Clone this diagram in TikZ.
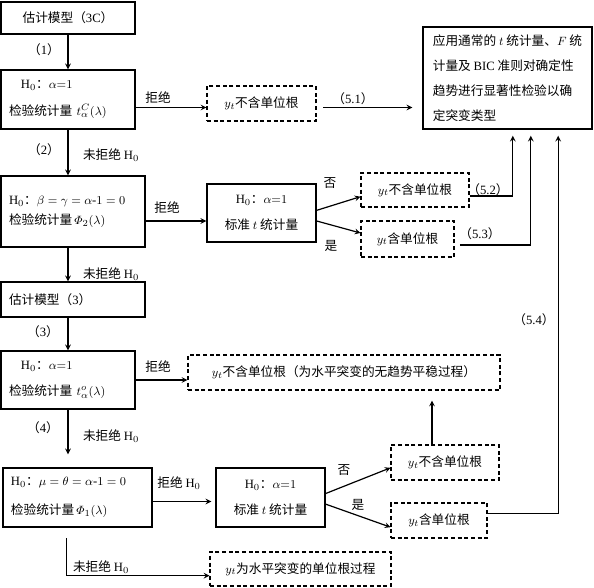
\documentclass[tikz,border=0pt]{standalone}
\usepackage[no-math]{fontspec}
\usepackage{amsmath}
\usepackage{tikz}
\setmainfont{Noto Sans CJK SC}
\newfontfamily\lat{Liberation Serif}
\newcommand{\Hnull}{{\lat H}$_0$}
\newcommand{\lnum}[1]{（{\lat #1}）}
\newcommand{\hyph}{\mbox{\lat -}}
\tikzset{
    block/.style={
        draw, line width = 1.1pt,
        align = center,
        inner sep = 2pt
    },
    testbox/.style={
        block, align = left,
        inner xsep = 6pt
    },
    result/.style={
        draw, line width = 0.8pt,
        dash pattern = on 3pt off 2pt,
        align = center,
        inner sep = 2pt
    },
    every node/.style = {font = \fontsize{9.5}{11}\selectfont},
    line/.style = {-stealth, line width = 0.9pt}
}

\begin{document}
\begin{tikzpicture}[x=0.75pt, y=-0.75pt]
    \useasboundingbox (0,0) rectangle (594,588);

    % Left column
    \node[block, minimum width=100.5pt, minimum height=24pt] (model3c) at (68,18) {估计模型\lnum{3C}};
    \node[testbox, text width=88.5pt, minimum height=44.25pt] (testa) at (68,99.5)
        {\hspace*{9pt}\Hnull：$\alpha{=}1$\\[9pt]检验统计量\,\,$t_{\alpha}^{C}(\lambda)$};
    \node[testbox, text width=96pt, minimum height=53.25pt] (phi2) at (73,211.5)
        {\Hnull：$\beta=\gamma=\alpha\hyph1=0$\\[4pt]检验统计量\,$\varPhi_2(\lambda)$};
    \node[testbox, text width=96pt, minimum height=26.25pt] (model3) at (73,299.5) {估计模型\lnum{3}};
    \node[testbox, text width=88.5pt, minimum height=43.5pt] (testo) at (68,380)
        {\hspace*{9pt}\Hnull：$\alpha{=}1$\\[9pt]检验统计量\,\,$t_{\alpha}^{o}(\lambda)$};
    \node[testbox, text width=99.75pt, minimum height=44.25pt] (phi1) at (77.5,497.5)
        {\Hnull：$\mu=\theta=\alpha\hyph1=0$\\[11pt]检验统计量\,$\varPhi_1(\lambda)$};

    % Standard t tests
    \node[block, minimum width=81.75pt, minimum height=43.5pt] (tstat1) at (261.5,213)
        {\Hnull：$\alpha{=}1$\\[8.5pt]标准 $t$ 统计量};
    \node[block, minimum width=81.75pt, minimum height=44.25pt] (tstat2) at (270.5,497.5)
        {\Hnull：$\alpha{=}1$\\[8.5pt]标准 $t$ 统计量};

    % Decision rule
    \node[block, minimum width=126.75pt, minimum height=76.5pt, align=left, inner xsep=3pt,
        font=\fontsize{9.5}{18.75}\selectfont] (rule) at (507.5,78)
        {应用通常的 $t$ 统计量、$F$ 统\\计量及 {\lat BIC} 准则对确定性\\趋势进行显著性检验以确\\定突变类型};

    % Results
    \node[result, minimum width=81.75pt, minimum height=26.25pt] (nr1) at (261.5,103.5) {$y_t$不含单位根};
    \node[result, minimum width=81pt, minimum height=25.5pt] (nr2) at (415,190) {$y_t$不含单位根};
    \node[result, minimum width=69.75pt, minimum height=27pt] (nr3) at (407.5,239) {$y_t$含单位根};
    \node[result, minimum width=234pt, minimum height=26.25pt] (nr4) at (344,372.5)
        {$y_t$不含单位根（为水平突变的无趋势平稳过程）};
    \node[result, minimum width=81pt, minimum height=26.25pt] (nr5) at (445,462.5) {$y_t$不含单位根};
    \node[result, minimum width=72pt, minimum height=26.25pt] (nr6) at (439,520.5) {$y_t$含单位根};
    \node[result, minimum width=135.75pt, minimum height=25.5pt] (nr7) at (300.5,569) {$y_t$为水平突变的单位根过程};

    % Helper points
    \coordinate (r1) at ([yshift=-3pt]nr1.west);
    \coordinate (r2) at ([yshift=-6pt]tstat1.west);
    \coordinate (r3) at ([xshift=-3pt,yshift=-3pt]tstat2.west);
    \coordinate (r4) at ([yshift=-5pt]nr7.west);
    \coordinate (d1) at ([xshift=-8pt,yshift=-8pt]phi1.south);
    \coordinate (u1) at ([xshift=-9.75pt]nr5.north);
    \coordinate (in52) at ([xshift=4pt]rule.south);
    \coordinate (in53) at ([xshift=17.5pt]rule.south);
    \coordinate (in54) at ([xshift=38pt]rule.south);

    % Lines
    \draw[line] (model3c) -- (testa);
    \draw[line] (testa.south) -- (testa.south |- phi2.north);
    \draw[line] (testa.south |- phi2.south) -- (testa.south |- model3.north);
    \draw[line] (testo.north |- model3.south) -- (testo.north);
    \draw[line, shorten >=9.75pt] (testo.south) -- (testo.south |- phi1.north);
    \draw[line] (d1) |- (r4);

    \draw[line] (testa.east |- r1) -- (r1);
    \draw[line, shorten <=5pt, shorten >=7.5pt] (nr1.east |- r1) -- (rule.west |- r1);
    \draw[line] (phi2.east |- r2) -- (r2);
    \draw[line] ([yshift=2pt]tstat1.east) -- ([yshift=-5pt]nr2.west);
    \draw[line] ([yshift=-6pt]tstat1.east) -- ([yshift=4.5pt]nr3.west);
    \draw[line] (testo.east) -- (testo.east -| nr4.west);
    \draw[line] (phi1.east |- r3) -- (r3);
    \draw[line] ([yshift=3pt]tstat2.east) -- ([yshift=-4pt]nr5.west);
    \draw[line] ([yshift=-5pt]tstat2.east) -- ([yshift=-5pt]nr6.west);
    \draw[line, shorten >=7.5pt] (u1) -- (u1 |- nr4.south);

    \draw[line, shorten >=4.5pt] ([yshift=-4.5pt]nr2.east) -| (in52);
    \draw[line, shorten >=4.5pt] ([xshift=4pt,yshift=-4.5pt]nr3.east) -| (in53);
    \draw[line, shorten >=4.5pt] ([yshift=5pt]nr6.east) -| (in54);

    % Labels
    \node (lab1) at (44,50) {\lnum{1}};
    \node (lab2) at (44,150) {\lnum{2}};
    \node (lab3) at (43,332) {\lnum{3}};
    \node (lab4) at (43,428) {\lnum{4}};
    \node (nrej1) at (111,155) {未拒绝 \Hnull};
    \node (nrej2) at (111,274) {未拒绝 \Hnull};
    \node (nrej3) at (111,436) {未拒绝 \Hnull};
    \node (nrej4) at (101,567) {未拒绝 \Hnull};
    \node (rej1) at (158,98) {拒绝};
    \node (rej2) at (167,208) {拒绝};
    \node (rej3) at (158,367) {拒绝};
    \node (rej4) at (179,483) {拒绝 \Hnull};
    \node (l51) at (353,99) {\lnum{5.1}};
    \node (l52) at (488,190) {\lnum{5.2}};
    \node (l53) at (480,234) {\lnum{5.3}};
    \node (l54) at (534,320) {\lnum{5.4}};
    \node (no1) at (330,183) {否};
    \node (yes1) at (331,246) {是};
    \node (no2) at (344,470) {否};
    \node (yes2) at (358,505) {是};

\end{tikzpicture}
\end{document}
